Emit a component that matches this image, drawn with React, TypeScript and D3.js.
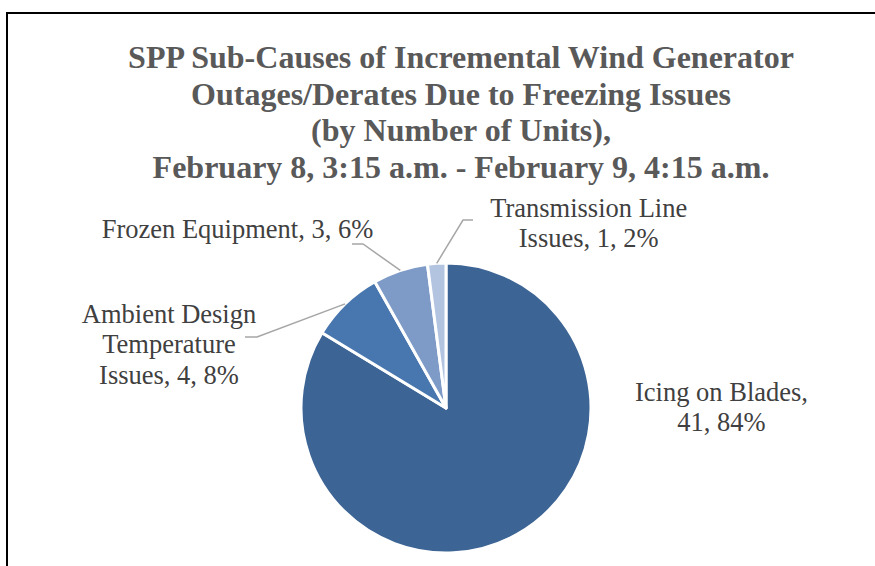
import React from "react";
import * as d3 from "d3";

const categories = ["Icing on Blades", "Ambient Design Temperature Issues", "Frozen Equipment", "Transmission Line Issues"];
const values = [41, 4, 3, 1];
const percents = ["84%", "8%", "6%", "2%"];
const colors = ["#3C6494", "#4876AE", "#7E9BC8", "#B3C4E1"];
const labelLines = [
  ["Icing on Blades,", "41, 84%"],
  ["Ambient Design", "Temperature", "Issues, 4, 8%"],
  ["Frozen Equipment, 3, 6%"],
  ["Transmission Line", "Issues, 1, 2%"],
];
const titleLines = [
  "SPP Sub-Causes of Incremental Wind Generator",
  "Outages/Derates Due to Freezing Issues",
  "(by Number of Units),",
  "February 8, 3:15 a.m. - February 9, 4:15 a.m.",
];

// layout (not data)
const W = 875, H = 566;
const cx = 446, cy = 408, R = 145;
const SERIF = "Liberation Serif, Times New Roman, Tinos, DejaVu Serif, serif";
const labelLayout = [
  { x: 721.5, y: 400.7, leader: null },
  { x: 169, y: 322.7, leader: { elbow: [257, 337], end: [245, 337] } },
  { x: 237.5, y: 238.3, leader: { elbow: [363, 244], end: [352, 244] } },
  { x: 588.7, y: 216.7, leader: { elbow: [463, 220], end: [473, 220] } },
];

export default function App() {
  const pie = d3.pie<number>().sort(null).value((d) => d).startAngle(0).endAngle(2 * Math.PI);
  const arcs = pie(values);
  const arcGen = d3.arc<d3.PieArcDatum<number>>().innerRadius(0).outerRadius(R);
  const outer = d3.arc<d3.PieArcDatum<number>>().innerRadius(R).outerRadius(R);

  return (
    <svg width={W} height={H} style={{ position: "absolute", left: 0, top: 0, background: "#fff" }}>
      <path d={`M7,${H + 10} V13 H${W + 10}`} fill="none" stroke="#000" strokeWidth={2} />
      <g style={{ fontFamily: SERIF, fontWeight: 700, fontSize: "32px" }} fill="#595959" textAnchor="middle">
        {titleLines.map((t, i) => (
          <text key={i} x={461} y={67.8 + i * 36.7}>{t}</text>
        ))}
      </g>
      <g transform={`translate(${cx},${cy})`}>
        {arcs.map((a, i) => (
          <path key={categories[i]} d={arcGen(a) || ""} fill={colors[i]} stroke="#fff" strokeWidth={3} strokeLinejoin="round" />
        ))}
      </g>
      <g fill="none" stroke="#A6A6A6" strokeWidth={1.5}>
        {arcs.map((a, i) => {
          const L = labelLayout[i].leader;
          if (!L) return null;
          const [px, py] = outer.centroid(a);
          return (
            <polyline key={i} points={`${cx + px},${cy + py} ${L.elbow[0]},${L.elbow[1]} ${L.end[0]},${L.end[1]}`} />
          );
        })}
      </g>
      <g style={{ fontFamily: SERIF, fontSize: "26.5px" }} fill="#404040" textAnchor="middle">
        {labelLines.map((lines, i) => (
          <text key={i} x={labelLayout[i].x} y={labelLayout[i].y} data-percent={percents[i]}>
            {lines.map((l, j) => (
              <tspan key={j} x={labelLayout[i].x} y={labelLayout[i].y + j * 30.4}>{l}</tspan>
            ))}
          </text>
        ))}
      </g>
    </svg>
  );
}
